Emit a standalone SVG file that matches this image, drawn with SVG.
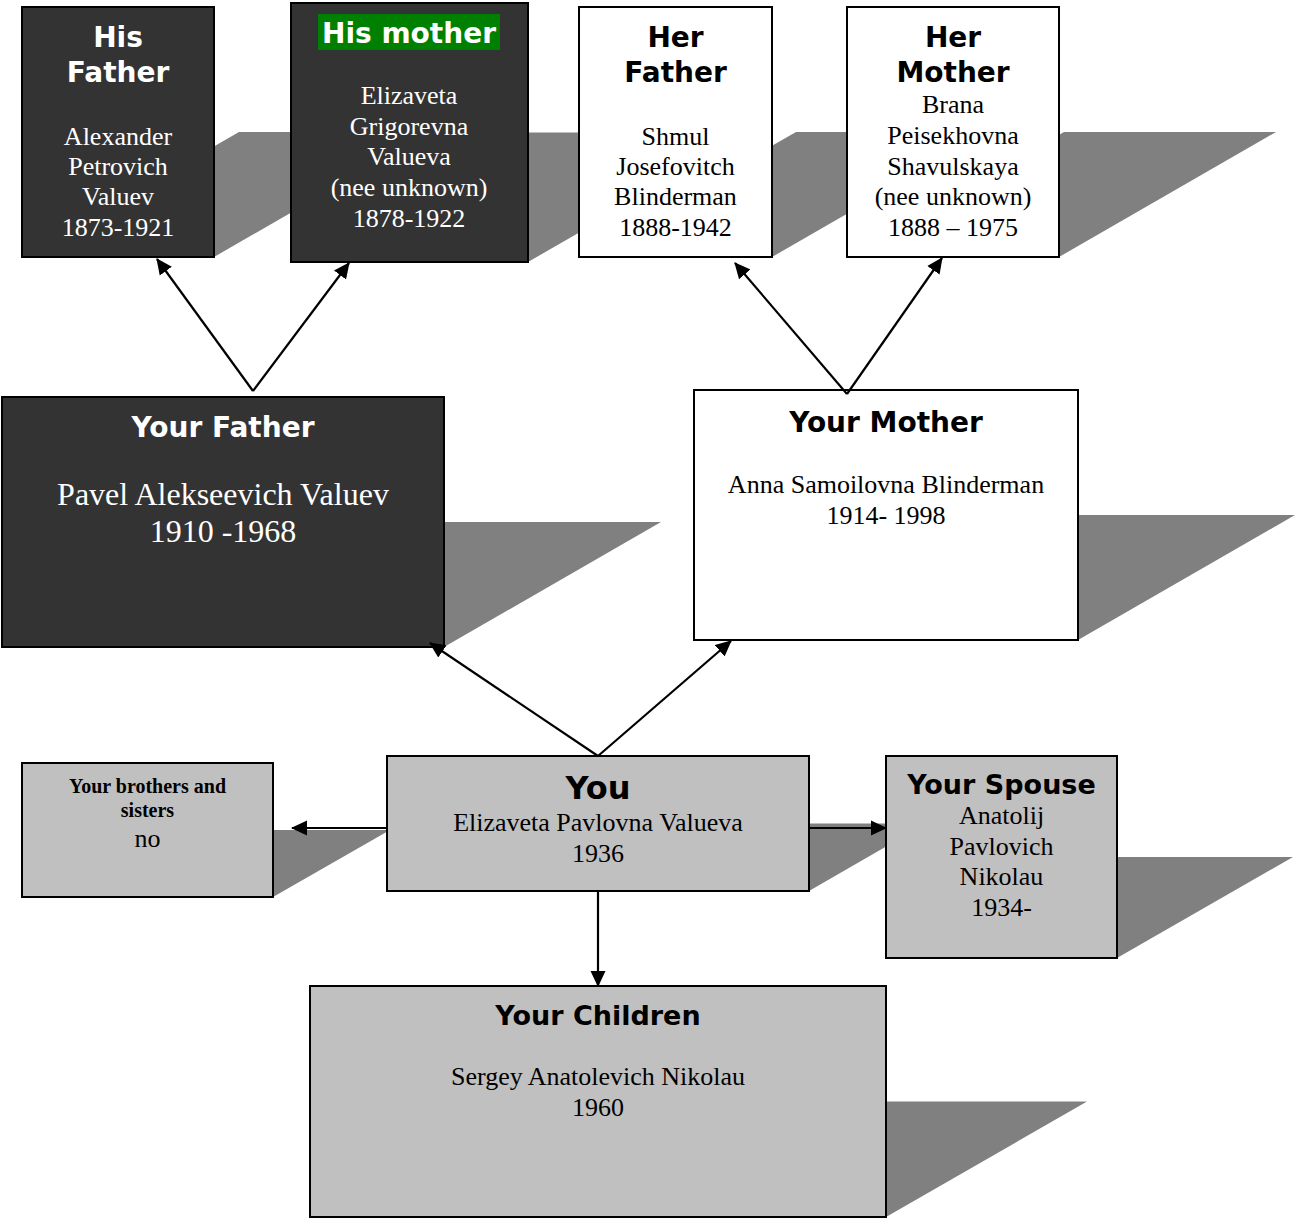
<svg xmlns="http://www.w3.org/2000/svg" width="1297" height="1218" viewBox="0 0 1297 1218">
<style>
.shadow{fill:#808080;stroke:none}
.box{stroke:#000;stroke-width:2}
.dark{fill:#333333}
.white{fill:#ffffff}
.gray{fill:#c0c0c0}
.h{font-family:"DejaVu Sans","Liberation Sans",sans-serif;font-weight:bold;font-size:28px;text-anchor:middle}
.b{font-family:"Liberation Serif","Times New Roman",serif;font-size:26px;text-anchor:middle}
.lt{fill:#ffffff}
.dk{fill:#000000}
.conn{stroke:#000;stroke-width:2.2;fill:none;marker-end:url(#ah)}
</style>
<defs>
<marker id="ah" viewBox="0 0 16 16" refX="15" refY="8" markerUnits="userSpaceOnUse" markerWidth="16" markerHeight="16" orient="auto">
<path d="M0,0.5 L16,8 L0,15.5 z" fill="#000"/>
</marker>
</defs>
<rect width="1297" height="1218" fill="#ffffff"/>
<g id="shadows">
<polygon class="shadow" points="22,257 214,257 431,132 239,132"/>
<polygon class="shadow" points="291,262 528,262 753,132.5 516,132.5"/>
<polygon class="shadow" points="579,257 772,257 989,132 796,132"/>
<polygon class="shadow" points="847,257 1059,257 1276,132 1064,132"/>
<polygon class="shadow" points="2,647 444,647 661,522 219,522"/>
<polygon class="shadow" points="694,640 1078,640 1295,515 911,515"/>
<polygon class="shadow" points="22,897 273,897 390,830 139,830"/>
<polygon class="shadow" points="387,891 809,891 926,823.5 504,823.5"/>
<polygon class="shadow" points="886,958 1117,958 1293,857 1062,857"/>
<polygon class="shadow" points="310,1217 886,1217 1087,1101.5 511,1101.5"/>
</g>
<g id="his-father">
<rect class="box dark" x="22" y="7" width="192" height="250"/>
<text class="h lt" x="118" y="47">His</text>
<text class="h lt" x="118" y="82">Father</text>
<text class="b lt" x="118" y="145">Alexander</text>
<text class="b lt" x="118" y="175">Petrovich</text>
<text class="b lt" x="118" y="205">Valuev</text>
<text class="b lt" x="118" y="236">1873-1921</text>
</g>
<g id="his-mother">
<rect class="box dark" x="291" y="3" width="237" height="259"/>
<rect x="318" y="14" width="182" height="36" fill="#008000"/>
<text class="h lt" x="409" y="43">His mother</text>
<text class="b lt" x="409" y="104">Elizaveta</text>
<text class="b lt" x="409" y="135">Grigorevna</text>
<text class="b lt" x="409" y="165">Valueva</text>
<text class="b lt" x="409" y="196">(nee unknown)</text>
<text class="b lt" x="409" y="227">1878-1922</text>
</g>
<g id="her-father">
<rect class="box white" x="579" y="7" width="193" height="250"/>
<text class="h dk" x="675.5" y="47">Her</text>
<text class="h dk" x="675.5" y="82">Father</text>
<text class="b dk" x="675.5" y="145">Shmul</text>
<text class="b dk" x="675.5" y="175">Josefovitch</text>
<text class="b dk" x="675.5" y="205">Blinderman</text>
<text class="b dk" x="675.5" y="236">1888-1942</text>
</g>
<g id="her-mother">
<rect class="box white" x="847" y="7" width="212" height="250"/>
<text class="h dk" x="953" y="47">Her</text>
<text class="h dk" x="953" y="82">Mother</text>
<text class="b dk" x="953" y="113">Brana</text>
<text class="b dk" x="953" y="144">Peisekhovna</text>
<text class="b dk" x="953" y="175">Shavulskaya</text>
<text class="b dk" x="953" y="205">(nee unknown)</text>
<text class="b dk" x="953" y="236">1888 – 1975</text>
</g>
<g id="your-father">
<rect class="box dark" x="2" y="397" width="442" height="250"/>
<text class="h lt" x="223" y="437">Your Father</text>
<text class="b lt" x="223" y="505" style="font-size:32px">Pavel Alekseevich Valuev</text>
<text class="b lt" x="223" y="542" style="font-size:32px">1910 -1968</text>
</g>
<g id="your-mother">
<rect class="box white" x="694" y="390" width="384" height="250"/>
<text class="h dk" x="886" y="432">Your Mother</text>
<text class="b dk" x="886" y="493">Anna Samoilovna Blinderman</text>
<text class="b dk" x="886" y="524">1914- 1998</text>
</g>
<g id="siblings">
<rect class="box gray" x="22" y="763" width="251" height="134"/>
<text class="b dk" x="147.5" y="793" style="font-size:20px;font-weight:bold">Your brothers and</text>
<text class="b dk" x="147.5" y="817" style="font-size:20px;font-weight:bold">sisters</text>
<text class="b dk" x="147.5" y="847">no</text>
</g>
<g id="you">
<rect class="box gray" x="387" y="756" width="422" height="135"/>
<text class="h dk" x="598" y="799" style="font-size:32px">You</text>
<text class="b dk" x="598" y="831">Elizaveta Pavlovna Valueva</text>
<text class="b dk" x="598" y="862">1936</text>
</g>
<g id="spouse">
<rect class="box gray" x="886" y="756" width="231" height="202"/>
<text class="h dk" x="1001.5" y="794" style="font-size:27px">Your Spouse</text>
<text class="b dk" x="1001.5" y="824">Anatolij</text>
<text class="b dk" x="1001.5" y="854.5">Pavlovich</text>
<text class="b dk" x="1001.5" y="885">Nikolau</text>
<text class="b dk" x="1001.5" y="916">1934-</text>
</g>
<g id="children">
<rect class="box gray" x="310" y="986" width="576" height="231"/>
<text class="h dk" x="598" y="1025" style="font-size:27px">Your Children</text>
<text class="b dk" x="598" y="1085">Sergey Anatolevich Nikolau</text>
<text class="b dk" x="598" y="1116">1960</text>
</g>
<g id="connectors">
<path class="conn" d="M253,391 L157,259"/>
<path class="conn" d="M253,391 L349,263"/>
<path class="conn" d="M847,394 L735,263"/>
<path class="conn" d="M847,394 L942,258"/>
<path class="conn" d="M598,756 L430,643"/>
<path class="conn" d="M598,756 L731,641"/>
<path class="conn" d="M598,891 L598,986"/>
<path class="conn" d="M387,828 L292,828"/>
<path class="conn" d="M809,828 L886,828"/>
</g>
</svg>
